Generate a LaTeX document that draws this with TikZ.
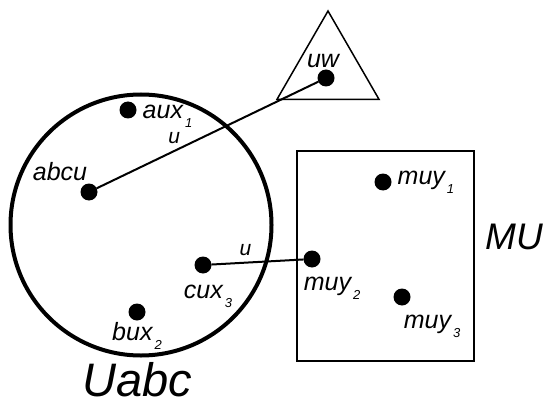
\documentclass[tikz,border=0pt]{standalone}
\usepackage{fontspec}
\setmainfont{Liberation Sans}
\usetikzlibrary{positioning, shapes.geometric}

\newcommand{\lowidx}[1]{\kern2pt\raisebox{-9pt}{\fontsize{13}{13}\selectfont #1}}

\begin{document}
\begin{tikzpicture}[x=1pt, y=-1pt,
        dot/.style={circle, fill, inner sep=0pt, outer sep=0pt, minimum size=17pt},
        lbl/.style={inner sep=0pt, font=\fontsize{25}{28}\selectfont\itshape},
        big/.style={inner sep=0pt, font=\fontsize{47}{50}\selectfont\itshape},
        region/.style={draw, inner sep=0pt, outer sep=0pt},
        edgelbl/.style={inner sep=0pt, font=\fontsize{21}{22}\selectfont\itshape}]
        \useasboundingbox (0,0) rectangle (545,406);

        % the three sets
        \node[region, circle, line width=4pt, minimum size=261pt] (U) at (141,225) {};
        \node[region, line width=1.5pt, minimum width=177pt, minimum height=210pt] (M) at (385.5,256) {};
        \node[region, regular polygon, regular polygon sides=3, line width=1.5pt, minimum size=118pt] (T) at (328,70) {};

        \node[big] (Uname) [below=7pt of U, xshift=-4pt] {Uabc};
        \node[big, font=\fontsize{37}{40}\selectfont\itshape] (Mname) [right=11pt of M, yshift=19pt] {MU};

        % elements
        \node[dot] (aux1) at (128,110) {};
        \node[dot] (abcu) at (89,192) {};
        \node[dot] (cux3) at (203,265) {};
        \node[dot] (bux2) at (137,312) {};
        \node[dot] (uw)   at (326,78) {};
        \node[dot] (muy1) at (383,182) {};
        \node[dot] (muy2) at (312,259) {};
        \node[dot] (muy3) at (402,297) {};

        \node[lbl] (laux1) [right=6pt of aux1, yshift=-6pt] {aux\lowidx{1}};
        \node[lbl] (labcu) [above=3pt of abcu, xshift=-29pt] {abcu};
        \node[lbl] (lcux3) [below=11pt of cux3, xshift=5pt] {cux\lowidx{3}};
        \node[lbl] (lbux2) [below=2pt of bux2] {bux\lowidx{2}};
        \node[lbl] (luw)   [above=2pt of uw, xshift=-3pt] {uw};
        \node[lbl] (lmuy1) [right=6pt of muy1] {muy\lowidx{1}};
        \node[lbl] (lmuy2) [below=9pt of muy2, xshift=20pt] {muy\lowidx{2}};
        \node[lbl] (lmuy3) [below=9pt of muy3, xshift=30pt] {muy\lowidx{3}};

        \path[line width=2pt]
        (abcu) edge node[edgelbl, pos=0.35, above=6pt] {u} (uw)
        (cux3) edge node[edgelbl, pos=0.37, above=6pt] {u} (muy2);

    \end{tikzpicture}
\end{document}
